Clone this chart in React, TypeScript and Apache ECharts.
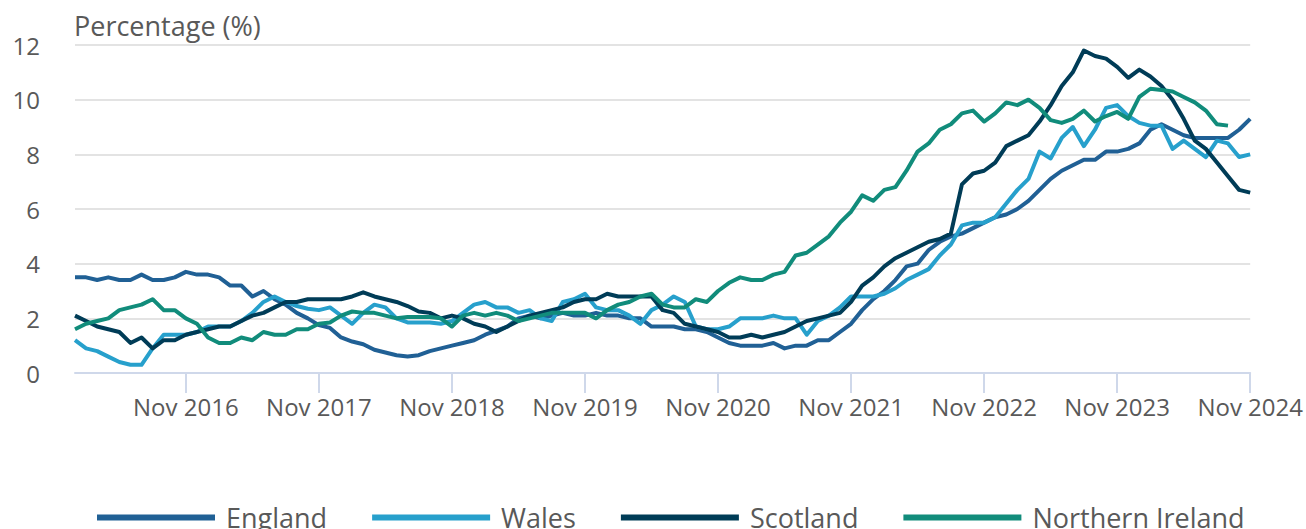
import React, { useEffect, useRef } from "react";
import * as echarts from "echarts";

const MONTHS = ["Jan", "Feb", "Mar", "Apr", "May", "Jun", "Jul", "Aug", "Sep", "Oct", "Nov", "Dec"];
const YEARS = [2016, 2017, 2018, 2019, 2020, 2021, 2022, 2023, 2024];
const N_MONTHS = 107; // Jan 2016 .. Nov 2024
const categories = YEARS.flatMap((y) => MONTHS.map((m) => `${m} ${y}`)).slice(0, N_MONTHS);

const england = [
  3.5, 3.5, 3.4, 3.5, 3.4, 3.4, 3.6, 3.4, 3.4, 3.5, 3.7, 3.6,
  3.6, 3.5, 3.2, 3.2, 2.8, 3.0, 2.7, 2.5, 2.2, 2.0, 1.75, 1.65,
  1.3, 1.15, 1.05, 0.85, 0.75, 0.65, 0.6, 0.65, 0.8, 0.9, 1.0, 1.1,
  1.2, 1.4, 1.55, 1.7, 2.0, 2.1, 2.0, 2.1, 2.2, 2.1, 2.1, 2.2,
  2.1, 2.1, 2.0, 2.0, 1.7, 1.7, 1.7, 1.6, 1.6, 1.5, 1.3, 1.1,
  1.0, 1.0, 1.0, 1.1, 0.9, 1.0, 1.0, 1.2, 1.2, 1.5, 1.8, 2.3,
  2.7, 3.0, 3.4, 3.9, 4.0, 4.5, 4.8, 5.0, 5.1, 5.3, 5.5, 5.7,
  5.8, 6.0, 6.3, 6.7, 7.1, 7.4, 7.6, 7.8, 7.8, 8.1, 8.1, 8.2,
  8.4, 8.9, 9.1, 8.9, 8.7, 8.6, 8.6, 8.6, 8.6, 8.9, 9.3,
];

const wales = [
  1.2, 0.9, 0.8, 0.6, 0.4, 0.3, 0.3, 0.9, 1.4, 1.4, 1.4, 1.5,
  1.7, 1.7, 1.7, 1.9, 2.2, 2.6, 2.8, 2.6, 2.45, 2.35, 2.3, 2.4,
  2.1, 1.8, 2.2, 2.5, 2.4, 2.0, 1.85, 1.85, 1.85, 1.8, 1.9, 2.2,
  2.5, 2.6, 2.4, 2.4, 2.2, 2.3, 2.0, 1.9, 2.6, 2.7, 2.9, 2.4,
  2.3, 2.3, 2.1, 1.8, 2.3, 2.5, 2.8, 2.6, 1.7, 1.6, 1.6, 1.7,
  2.0, 2.0, 2.0, 2.1, 2.0, 2.0, 1.4, 1.9, 2.1, 2.4, 2.8, 2.8,
  2.8, 2.9, 3.1, 3.4, 3.6, 3.8, 4.3, 4.7, 5.4, 5.5, 5.5, 5.7,
  6.2, 6.7, 7.1, 8.1, 7.85, 8.6, 9.0, 8.3, 8.9, 9.7, 9.8, 9.4,
  9.15, 9.05, 9.05, 8.2, 8.5, 8.2, 7.9, 8.5, 8.4, 7.9, 8.0,
];

const scotland = [
  2.1, 1.9, 1.7, 1.6, 1.5, 1.1, 1.3, 0.9, 1.2, 1.2, 1.4, 1.5,
  1.6, 1.7, 1.7, 1.9, 2.1, 2.2, 2.4, 2.6, 2.6, 2.7, 2.7, 2.7,
  2.7, 2.8, 2.95, 2.8, 2.7, 2.6, 2.45, 2.25, 2.2, 2.0, 2.1, 2.0,
  1.8, 1.7, 1.5, 1.7, 1.9, 2.1, 2.2, 2.3, 2.4, 2.6, 2.7, 2.7,
  2.9, 2.8, 2.8, 2.8, 2.8, 2.3, 2.2, 1.8, 1.7, 1.6, 1.5, 1.3,
  1.3, 1.4, 1.3, 1.4, 1.5, 1.7, 1.9, 2.0, 2.1, 2.2, 2.6, 3.2,
  3.5, 3.9, 4.2, 4.4, 4.6, 4.8, 4.9, 5.1, 6.9, 7.3, 7.4, 7.7,
  8.3, 8.5, 8.7, 9.2, 9.8, 10.5, 11.0, 11.8, 11.6, 11.5, 11.2, 10.8,
  11.1, 10.85, 10.5, 10.0, 9.3, 8.5, 8.2, 7.7, 7.2, 6.7, 6.6,
];

const northernIreland = [
  1.6, 1.8, 1.9, 2.0, 2.3, 2.4, 2.5, 2.7, 2.3, 2.3, 2.0, 1.8,
  1.3, 1.1, 1.1, 1.3, 1.2, 1.5, 1.4, 1.4, 1.6, 1.6, 1.8, 1.85,
  2.1, 2.25, 2.2, 2.2, 2.1, 2.0, 2.05, 2.05, 2.05, 2.0, 1.7, 2.1,
  2.2, 2.1, 2.2, 2.1, 1.9, 2.0, 2.1, 2.2, 2.2, 2.2, 2.2, 2.0,
  2.3, 2.5, 2.6, 2.8, 2.9, 2.5, 2.4, 2.4, 2.7, 2.6, 3.0, 3.3,
  3.5, 3.4, 3.4, 3.6, 3.7, 4.3, 4.4, 4.7, 5.0, 5.5, 5.9, 6.5,
  6.3, 6.7, 6.8, 7.4, 8.1, 8.4, 8.9, 9.1, 9.5, 9.6, 9.2, 9.5,
  9.9, 9.8, 10.0, 9.7, 9.25, 9.15, 9.3, 9.6, 9.2, 9.4, 9.55, 9.3,
  10.1, 10.4, 10.35, 10.3, 10.1, 9.9, 9.6, 9.1, 9.05, null, null,
];

const SERIES_NAMES = ["England", "Wales", "Scotland", "Northern Ireland"];
const SERIES_COLORS = ["#206095", "#27A0CC", "#003C57", "#118C7B"];
const SERIES_DATA = [england, wales, scotland, northernIreland];

const Y_TICKS = { min: 0, max: 12, interval: 2 };
const TEXT_COLOR = "#595959";
const FONT = "'Open Sans', 'Noto Sans', sans-serif";

export default function App() {
  const ref = useRef<HTMLDivElement>(null);

  useEffect(() => {
    if (!ref.current) return;
    const chart = echarts.init(ref.current, null, { renderer: "svg" });
    const showNov = (index: number) => index % 12 === 10;
    chart.setOption({
      animation: false,
      textStyle: { fontFamily: FONT },
      title: {
        text: "Percentage (%)",
        left: 74,
        top: 12,
        padding: 0,
        textStyle: { color: TEXT_COLOR, fontSize: 27, fontWeight: "normal", fontFamily: FONT },
      },
      grid: { left: 75, right: 54, top: 45, bottom: 156, containLabel: false },
      legend: {
        left: 92,
        top: 499,
        icon: "rect",
        itemWidth: 118,
        itemHeight: 6,
        itemGap: 45,
        data: SERIES_NAMES,
        textStyle: { color: TEXT_COLOR, fontSize: 27, fontFamily: FONT, padding: [0, 0, 0, 6] },
      },
      xAxis: {
        type: "category",
        data: categories,
        boundaryGap: false,
        axisLine: { show: true, lineStyle: { color: "#cfd8ea", width: 2 } },
        axisTick: {
          show: true,
          interval: (index: number) => showNov(index),
          length: 20,
          lineStyle: { color: "#cfd8ea", width: 2 },
        },
        axisLabel: {
          interval: (index: number) => showNov(index),
          color: TEXT_COLOR,
          fontSize: 24,
          margin: 21,
          fontFamily: FONT,
        },
        splitLine: { show: false },
      },
      yAxis: {
        type: "value",
        min: Y_TICKS.min,
        max: Y_TICKS.max,
        interval: Y_TICKS.interval,
        axisLine: { show: false },
        axisTick: { show: false },
        axisLabel: { color: TEXT_COLOR, fontSize: 24, margin: 35, fontFamily: FONT },
        splitLine: { lineStyle: { color: "#e3e3e3", width: 2 } },
      },
      series: SERIES_NAMES.map((name, i) => ({
        name,
        type: "line",
        data: SERIES_DATA[i],
        symbol: "none",
        connectNulls: false,
        itemStyle: { color: SERIES_COLORS[i] },
        lineStyle: { color: SERIES_COLORS[i], width: 4, join: "round" },
      })),
    });
    return () => chart.dispose();
  }, []);

  return (
    <div
      ref={ref}
      style={{ position: "absolute", left: 0, top: 0, width: 1306, height: 529 }}
    />
  );
}
